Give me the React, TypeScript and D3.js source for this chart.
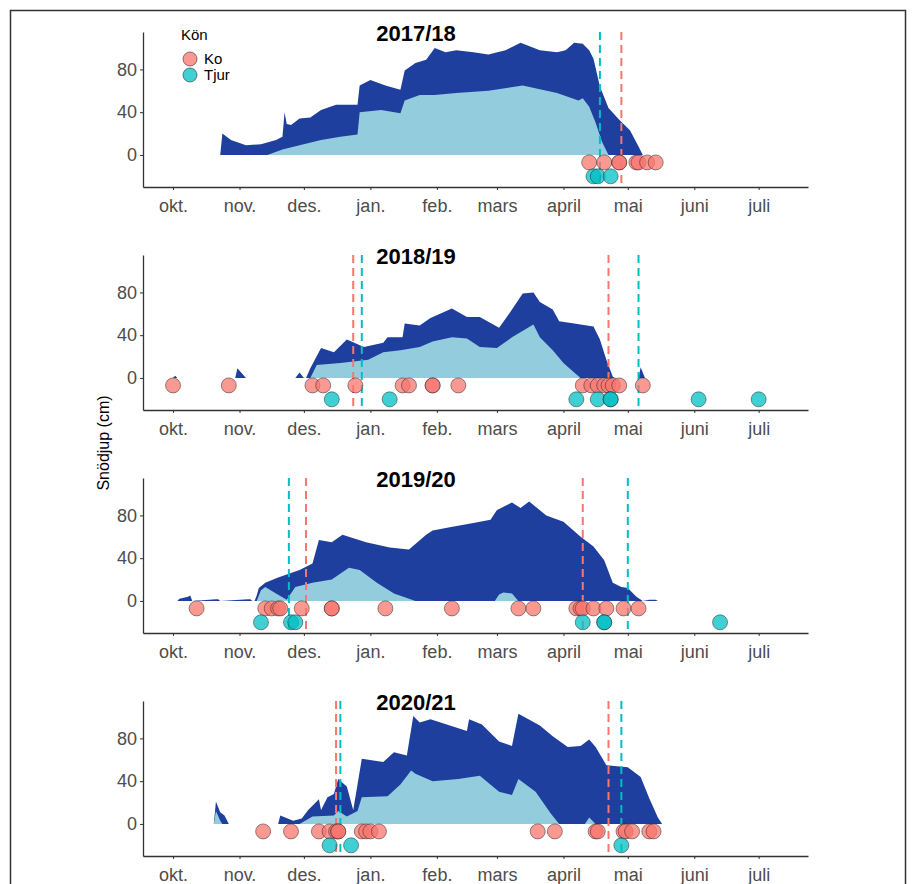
import React, { useEffect, useRef } from "react";
import * as d3 from "d3";

// snow depth (cm) per season, [MM-DD, cm]; max = dark band, min = light band
const seasons = ["2017/18", "2018/19", "2019/20", "2020/21"];

const max1718 = [["10-23",0],["10-24",20],["10-28",14],["11-04",9],["11-11",10],["11-18",14],["11-21",17],["11-22",40],["11-23",29],["11-25",28],["11-29",34],["12-04",35],["12-09",42],["12-16",47],["12-26",47],["12-27",65],["01-01",70],["01-08",65],["01-15",61],["01-17",79],["01-22",86],["01-27",89],["01-31",100],["02-05",96],["02-10",98],["02-18",96],["02-25",94],["03-05",98],["03-12",105],["03-21",98],["03-29",96],["04-02",98],["04-06",105],["04-10",104],["04-13",98],["04-15",90],["04-18",64],["04-22",44],["04-27",33],["05-02",23],["05-06",8],["05-08",0]];
const min1718 = [["11-14",0],["11-21",5],["11-29",9],["12-09",14],["12-18",17],["12-26",19],["12-27",40],["01-06",42],["01-15",39],["01-17",51],["01-24",56],["01-31",56],["02-10",58],["02-25",60],["03-13",65],["03-29",58],["04-08",51],["04-10",53],["04-13",45],["04-16",30],["04-19",12],["04-22",0]];

const max1819 = [["10-01",0],["10-02",2],["10-03",0],["10-30",0],["10-31",9],["11-04",0],["11-27",0],["11-29",5],["12-01",0],["12-02",0],["12-04",9],["12-09",28],["12-15",24],["12-21",36],["12-29",29],["01-07",33],["01-09",38],["01-16",38],["01-17",51],["01-24",49],["01-29",56],["02-08",65],["02-15",57],["02-21",57],["03-02",47],["03-07",61],["03-13",79],["03-18",80],["03-21",71],["03-27",64],["03-30",53],["04-06",51],["04-15",48],["04-18",36],["04-21",17],["04-24",1],["04-25",0],["05-06",0],["05-07",10],["05-09",0]];
const min1819 = [["12-04",0],["12-07",12],["12-18",14],["12-31",17],["01-07",24],["01-15",26],["01-24",29],["01-30",34],["02-08",38],["02-15",37],["02-21",29],["03-01",28],["03-08",38],["03-18",50],["03-21",38],["03-27",26],["04-01",14],["04-06",5],["04-09",0]];

const max1920 = [["10-03",0],["10-04",2],["10-08",4],["10-09",5],["10-10",0],["10-21",1.5],["10-22",1.5],["10-23",0],["11-05",1.5],["11-06",1.5],["11-07",0],["11-08",0],["11-09",5],["11-10",12],["11-13",17],["11-19",22],["11-29",29],["12-05",35],["12-08",57],["12-14",55],["12-19",62],["12-30",55],["01-10",50],["01-19",48],["01-27",62],["01-30",66],["02-07",69],["02-18",73],["02-26",76],["03-01",85],["03-08",92],["03-12",87],["03-16",93],["03-24",80],["04-01",74],["04-09",60],["04-15",51],["04-20",38],["04-24",17],["04-28",13],["05-01",12],["05-05",4],["05-08",0],["05-11",1],["05-14",1],["05-15",0]];
const min1920 = [["11-09",0],["11-11",10],["11-13",13],["11-18",7],["11-23",1],["11-27",13],["12-05",17],["12-14",20],["12-22",31],["12-27",29],["01-04",17],["01-12",7],["01-22",0],["02-28",0],["03-02",6],["03-04",8],["03-08",7],["03-11",0]];

const max2021 = [["10-20",0],["10-21",21],["10-23",11],["10-25",8],["10-27",0],["11-19",0],["11-20",8],["11-26",3],["11-30",5],["12-03",13],["12-08",23],["12-09",13],["12-12",25],["12-15",28],["12-17",42],["12-21",35],["12-24",13],["12-26",37],["12-28",61],["01-07",58],["01-12",67],["01-18",64],["01-21",101],["01-24",95],["01-29",98],["02-15",87],["02-16",98],["02-22",93],["03-02",77],["03-08",73],["03-11",103],["03-21",92],["03-27",82],["04-03",72],["04-09",73],["04-13",79],["04-16",72],["04-21",55],["05-01",53],["05-07",44],["05-11",24],["05-15",6],["05-17",0]];
const min2021 = [["10-20",0],["10-21",12],["10-23",3],["10-24",0],["11-29",0],["12-05",7],["12-15",8],["12-17",12],["12-21",7],["12-24",10],["12-26",12],["12-28",25],["01-09",26],["01-15",37],["01-20",50],["01-22",47],["01-30",40],["02-11",42],["02-21",45],["03-02",30],["03-08",27],["03-11",42],["03-19",30],["03-26",10],["03-30",0],["04-11",0],["04-13",6],["04-16",0]];

// observation dates per sex
const ko1718 = ["04-13","04-20","04-27","04-27","05-05","05-06","05-10","05-14"];
const tjur1718 = ["04-15","04-17","04-23"];
const ko1819 = ["10-01","10-27","12-05","12-10","12-25","01-16","01-19","01-30","01-30","02-11","04-10","04-14","04-17","04-20","04-22","04-24","04-27","05-08"];
const tjur1819 = ["12-14","01-10","04-07","04-17","04-23","04-23","06-03","07-01"];
const ko1920 = ["10-12","11-13","11-16","11-19","11-20","11-30","12-14","12-14","01-08","02-08","03-11","03-18","04-07","04-09","04-10","04-15","04-21","04-29","05-06"];
const tjur1920 = ["11-11","11-25","11-27","04-10","04-20","04-20","06-13"];
const ko2021 = ["11-12","11-25","12-08","12-13","12-16","12-17","12-17","12-28","12-30","01-01","01-05","03-20","03-28","04-16","04-17","04-29","04-30","05-03","05-11","05-13"];
const tjur2021 = ["12-13","12-23","04-28"];

// dashed lines (mean dates)
const koLines = [["04-28"], ["12-24","04-22"], ["12-02","04-10"], ["12-16","04-22"]];
const tjurLines = [["04-18"], ["12-28","05-06"], ["11-24","05-01"], ["12-18","04-28"]];

const monthTicks = ["10-01","11-01","12-01","01-01","02-01","03-01","04-01","05-01","06-01","07-01"];
const monthLabels = ["okt.","nov.","des.","jan.","feb.","mars","april","mai","juni","juli"];
const yTicks = [0, 40, 80];

const maxSeries = [max1718, max1819, max1920, max2021];
const minSeries = [min1718, min1819, min1920, min2021];
const koSeries = [ko1718, ko1819, ko1920, ko2021];
const tjurSeries = [tjur1718, tjur1819, tjur1920, tjur2021];

const KO = "#F8766D";
const TJUR = "#00BFC4";
const font = "Liberation Sans, Arial, Helvetica, sans-serif";

// put MM-DD into one dummy season so all panels share the axis
const toDate = (md: string) => {
  const [m, d] = md.split("-").map(Number);
  return new Date(m >= 8 ? 2017 : 2018, m - 1, d);
};

export default function App() {
  const ref = useRef<SVGSVGElement>(null);

  useEffect(() => {
    const svg = d3.select(ref.current);
    svg.selectAll("*").remove();

    svg.append("rect")
      .attr("x", 10.5).attr("y", 10.5)
      .attr("width", 895).attr("height", 900)
      .attr("fill", "white")
      .attr("stroke", "#333").attr("stroke-width", 1.5);

    const x = d3.scaleTime()
      .domain([new Date(2017, 8, 17), new Date(2018, 6, 24)])
      .range([143, 808]);

    seasons.forEach((season, i) => {
      const top = 32 + 223 * i;
      const h = 155;
      const y = d3.scaleLinear().domain([-30, 115]).range([top + h, top]);
      const g = svg.append("g");

      const area = d3.area<any>()
        .x(d => x(toDate(d[0])))
        .y0(y(0))
        .y1(d => y(d[1]));

      g.append("path").attr("d", area(maxSeries[i])).attr("fill", "#1f3f9e");
      g.append("path").attr("d", area(minSeries[i])).attr("fill", "#93cddd");

      const lines = [
        ...koLines[i].map(d => ({ d, c: KO })),
        ...tjurLines[i].map(d => ({ d, c: TJUR })),
      ];
      g.selectAll(".vline").data(lines).enter().append("line")
        .attr("x1", d => x(toDate(d.d))).attr("x2", d => x(toDate(d.d)))
        .attr("y1", top).attr("y2", top + h)
        .attr("stroke", d => d.c).attr("stroke-width", 2)
        .attr("stroke-dasharray", "8 5");

      const pts = [
        ...koSeries[i].map(d => ({ d, v: -7, c: KO })),
        ...tjurSeries[i].map(d => ({ d, v: -20, c: TJUR })),
      ];
      g.selectAll(".pt").data(pts).enter().append("circle")
        .attr("cx", d => x(toDate(d.d))).attr("cy", d => y(d.v))
        .attr("r", 7.5)
        .attr("fill", d => d.c).attr("fill-opacity", 0.75)
        .attr("stroke", "#222").attr("stroke-opacity", 0.55).attr("stroke-width", 0.9);

      // axes
      const xAxis = g.append("g").attr("transform", `translate(0,${top + h})`)
        .call(d3.axisBottom(x).tickValues(monthTicks.map(toDate))
          .tickFormat((d, j) => monthLabels[j]).tickSize(3).tickSizeOuter(0));
      xAxis.select(".domain").attr("stroke", "#333").attr("stroke-width", 1.3);
      xAxis.selectAll(".tick line").attr("stroke", "#333");
      xAxis.selectAll("text").attr("fill", "#4d4d4d").attr("font-size", 18)
        .attr("font-family", font).attr("dy", "1.05em");

      const yAxis = g.append("g").attr("transform", "translate(143,0)")
        .call(d3.axisLeft(y).tickValues(yTicks).tickSize(3).tickSizeOuter(0));
      yAxis.select(".domain").attr("stroke", "#333").attr("stroke-width", 1.3);
      yAxis.selectAll(".tick line").attr("stroke", "#333");
      yAxis.selectAll("text").attr("fill", "#4d4d4d").attr("font-size", 18)
        .attr("font-family", font).attr("x", -6);

      g.append("text")
        .attr("x", 416).attr("y", top + 1).attr("dy", "0.36em")
        .attr("text-anchor", "middle")
        .attr("font-family", font).attr("font-weight", "bold").attr("font-size", 22)
        .text(season);
    });

    svg.append("text")
      .attr("transform", "translate(109,443) rotate(-90)")
      .attr("text-anchor", "middle")
      .attr("font-family", font).attr("font-size", 16)
      .text("Snödjup (cm)");

    // legend
    const lg = svg.append("g").attr("font-family", font);
    lg.append("text").attr("x", 181).attr("y", 40).attr("font-size", 15).text("Kön");
    [["Ko", KO], ["Tjur", TJUR]].forEach(([label, c], j) => {
      lg.append("circle").attr("cx", 190).attr("cy", 59 + 16 * j).attr("r", 7)
        .attr("fill", c).attr("fill-opacity", 0.75)
        .attr("stroke", "#222").attr("stroke-opacity", 0.55);
      lg.append("text").attr("x", 204).attr("y", 59 + 16 * j).attr("dy", "0.35em")
        .attr("font-size", 15).text(label);
    });
  }, []);

  return (
    <svg ref={ref} width={912} height={884}
      style={{ position: "absolute", left: 0, top: 0, background: "white" }} />
  );
}
